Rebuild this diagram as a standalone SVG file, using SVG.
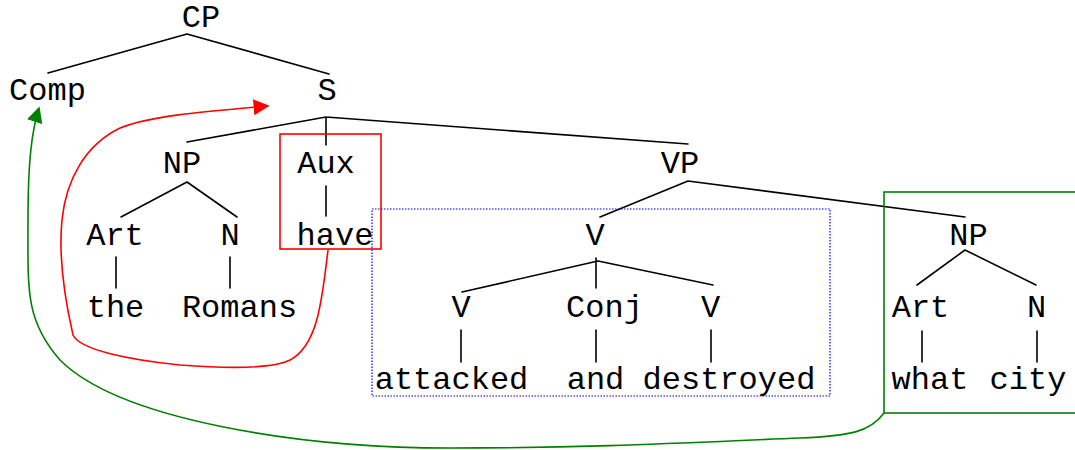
<svg xmlns="http://www.w3.org/2000/svg" width="1075" height="450" viewBox="0 0 1075 450">
<style>
text{font-family:"Liberation Mono","Courier New",monospace;font-size:32px;fill:#000;text-anchor:middle}
.e{stroke:#000;stroke-width:1.6;fill:none;stroke-linecap:round}
</style>
<defs>
<marker id="ar" viewBox="0 0 10 10" refX="9" refY="5" markerWidth="16" markerHeight="16" markerUnits="userSpaceOnUse" orient="auto"><path d="M0,0L10,5L0,10z" fill="#f00"/></marker>
<marker id="ag" viewBox="0 0 10 10" refX="9" refY="5" markerWidth="16" markerHeight="16" markerUnits="userSpaceOnUse" orient="auto"><path d="M0,0L10,5L0,10z" fill="#008000"/></marker>
</defs>
<rect width="1075" height="450" fill="#fff"/>
<g id="connectors">
<path class="e" d="M187,34L48,73M187,34L329,74"/>
<path class="e" d="M326,117L187,142M326,117L688,144M326,117L326,145"/>
<path class="e" d="M187,182L121,217M187,182L237,217"/>
<path class="e" d="M116,257L116,288M230,257L230,288"/>
<path class="e" d="M326,186L326,216"/>
<path class="e" d="M688,181L600,217M688,181L965,217"/>
<path class="e" d="M598,261L462,292M598,261L713,285M596,258L596,288"/>
<path class="e" d="M461,330L461,362M596,330L596,362M711,330L711,362"/>
<path class="e" d="M965,250L917,285M965,250L1036,285"/>
<path class="e" d="M922,331L922,362M1037,331L1037,362"/>
</g>
<g id="boxes">
<rect x="280" y="134" width="101" height="115" fill="none" stroke="#f00" stroke-width="1.6"/>
<rect x="372" y="209" width="458" height="187" fill="none" stroke="#00f" stroke-width="1.2" stroke-dasharray="1.5,1.5"/>
<rect x="884" y="192" width="200" height="221" fill="none" stroke="#008000" stroke-width="1.6"/>
</g>
<g id="arrows">
<path d="M328,250C322,300 318,345 290,360C270,370 220,368 180,365C130,360 80,350 73,335C65,300 58,260 62,220C66,180 85,145 120,128C150,116 200,112 268,106" fill="none" stroke="#f00" stroke-width="1.6" marker-end="url(#ar)"/>
<path d="M884,413C870,432 850,436 800,438C700,442 600,448 450,448C300,448 120,420 60,360C25,320 28,290 28,220C28,160 32,130 39,108" fill="none" stroke="#008000" stroke-width="1.6" marker-end="url(#ag)"/>
</g>
<g id="n-CP"><text x="201" y="27">CP</text></g>
<g id="n-Comp"><text x="47.5" y="100">Comp</text></g>
<g id="n-S"><text x="327" y="100">S</text></g>
<g id="n-NP1"><text x="182" y="173">NP</text></g>
<g id="n-Aux"><text x="326" y="173">Aux</text></g>
<g id="n-VP"><text x="680" y="173">VP</text></g>
<g id="n-Art1"><text x="115" y="245">Art</text></g>
<g id="n-N1"><text x="230" y="245">N</text></g>
<g id="n-have"><text x="335" y="245">have</text></g>
<g id="n-V"><text x="595" y="245">V</text></g>
<g id="n-NP2"><text x="968.5" y="245">NP</text></g>
<g id="n-the"><text x="115.5" y="317">the</text></g>
<g id="n-Romans"><text x="239.5" y="317">Romans</text></g>
<g id="n-V1"><text x="461" y="317">V</text></g>
<g id="n-Conj"><text x="604.5" y="317">Conj</text></g>
<g id="n-V2"><text x="710.5" y="317">V</text></g>
<g id="n-Art2"><text x="920.5" y="317">Art</text></g>
<g id="n-N2"><text x="1036.5" y="317">N</text></g>
<g id="n-attacked"><text x="451.5" y="389">attacked</text></g>
<g id="n-and"><text x="595.5" y="389">and</text></g>
<g id="n-destroyed"><text x="729" y="389">destroyed</text></g>
<g id="n-what"><text x="930" y="389">what</text></g>
<g id="n-city"><text x="1028" y="389">city</text></g>
</svg>
